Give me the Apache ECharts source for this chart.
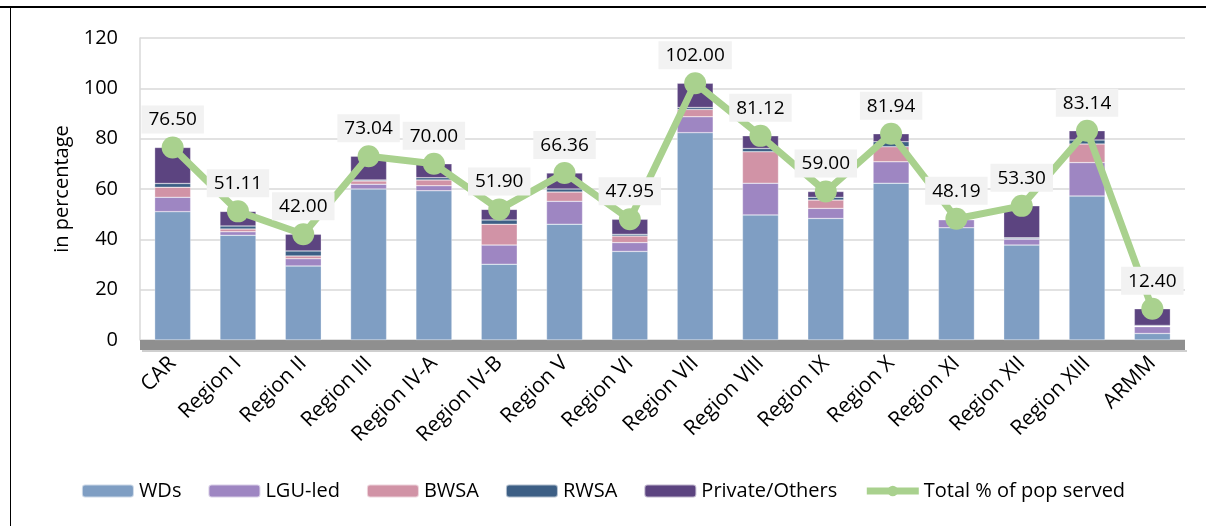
<!DOCTYPE html>
<html>
<head>
<meta charset="utf-8">
<script src="https://cdn.jsdelivr.net/npm/echarts@6/dist/echarts.min.js"></script>
<style>
  html, body { margin: 0; padding: 0; background: #fff; }
  #chart { width: 1206px; height: 526px; }
</style>
</head>
<body>
<div id="chart"></div>
<script>
const regions = ["CAR", "Region I", "Region II", "Region III", "Region IV-A", "Region IV-B",
    "Region V", "Region VI", "Region VII", "Region VIII", "Region IX", "Region X",
    "Region XI", "Region XII", "Region XIII", "ARMM"];

// stacked components
const wds     = [51.0, 41.6, 29.4, 60.0, 59.3, 30.1, 46.0, 35.2, 82.4, 49.7, 48.3, 62.3, 44.6, 37.7, 57.2, 2.6];
const lguLed  = [5.7, 1.4, 2.9, 1.9, 2.0, 7.6, 9.1, 3.5, 6.3, 12.6, 4.0, 8.5, 3.2, 2.4, 13.3, 2.7];
const bwsa    = [4.0, 1.1, 1.1, 1.3, 2.3, 8.3, 3.7, 2.6, 2.9, 12.5, 3.3, 6.0, 0.1, 0.1, 7.4, 0.2];
const rwsa    = [1.5, 1.2, 2.0, 0.4, 0.9, 1.7, 1.2, 0.7, 0.8, 1.3, 1.1, 2.0, 0.1, 0.4, 1.6, 0.3];
const private_ = [14.3, 5.8, 6.6, 9.44, 5.5, 4.2, 6.36, 5.95, 9.6, 5.02, 2.3, 3.14, 0.19, 12.7, 3.64, 6.6];
const totalServed = [76.50, 51.11, 42.00, 73.04, 70.00, 51.90, 66.36, 47.95, 102.00, 81.12,
    59.00, 81.94, 48.19, 53.30, 83.14, 12.40];

const yTicks = { min: 0, max: 120, interval: 20 };

const FONT = "'Open Sans', 'Noto Sans', sans-serif";

function barSeries(name, data, color) {
    return {
        name: name,
        type: "bar",
        stack: "pop",
        data: data,
        barWidth: 36,
        itemStyle: { color: color, borderColor: "rgba(255,255,255,0.6)", borderWidth: 0.5 },
        z: 2,
    };
}

const chart = echarts.init(document.getElementById("chart"));
const option = {
    animation: false,
    textStyle: { fontFamily: FONT },
    grid: { left: 140, right: 21, top: 38, bottom: 186 },
    legend: {
        bottom: 20,
        left: "center",
        itemWidth: 52,
        itemHeight: 13,
        itemGap: 26,
        textStyle: { fontSize: 20, color: "#000", fontFamily: FONT },
        data: ["WDs", "LGU-led", "BWSA", "RWSA", "Private/Others",
            { name: "Total % of pop served", itemStyle: { color: "#a9d18e" },
              lineStyle: { color: "#a9d18e", width: 7 } }],
    },
    xAxis: {
        type: "category",
        data: regions,
        axisTick: { show: false },
        axisLine: { show: false },
        axisLabel: { rotate: 45, fontSize: 21, color: "#000", margin: 20, interval: 0 },
    },
    yAxis: {
        type: "value",
        min: yTicks.min,
        max: yTicks.max,
        interval: yTicks.interval,
        name: "in percentage",
        nameLocation: "middle",
        nameGap: 68,
        nameTextStyle: { fontSize: 20, color: "#000" },
        axisLine: { show: true, lineStyle: { color: "#d9d9d9", width: 1.5 } },
        axisTick: { show: false },
        axisLabel: { fontSize: 20, color: "#000", margin: 22 },
        splitLine: { lineStyle: { color: "#d9d9d9", width: 1.5 } },
    },
    series: [
        barSeries("WDs", wds, "#7f9ec3"),
        barSeries("LGU-led", lguLed, "#9e86c2"),
        barSeries("BWSA", bwsa, "#d193a6"),
        barSeries("RWSA", rwsa, "#3d5f85"),
        barSeries("Private/Others", private_, "#5c4480"),
        {
            name: "Total % of pop served",
            type: "line",
            data: totalServed,
            symbol: "circle",
            symbolSize: 22,
            z: 5,
            lineStyle: { color: "#a9d18e", width: 7 },
            itemStyle: { color: "#a9d18e" },
            label: {
                show: true,
                position: "top",
                distance: 3,
                formatter: (p) => p.value.toFixed(2),
                fontSize: 19,
                color: "#000",
                backgroundColor: "#f2f2f2",
                padding: [5, 7, 4, 7],
            },
        },
    ],
};
chart.setOption(option);

// floor under the bars and frame around the figure
const y0 = chart.convertToPixel({ yAxisIndex: 0 }, 0);
chart.setOption({
    graphic: [
        { type: "rect", shape: { x: 140, y: y0, width: 1045, height: 10 },
          style: { fill: "#8f8f8f" }, z: 1 },
        { type: "rect", shape: { x: 142, y: y0 + 10, width: 1045, height: 2 },
          style: { fill: "#cfcfcf" }, z: 1 },
        { type: "line", shape: { x1: 0, y1: 7, x2: 1206, y2: 7 },
          style: { stroke: "#000", lineWidth: 2 } },
        { type: "line", shape: { x1: 10.5, y1: 8, x2: 10.5, y2: 526 },
          style: { stroke: "#000", lineWidth: 1 } },
    ],
});
</script>
</body>
</html>
